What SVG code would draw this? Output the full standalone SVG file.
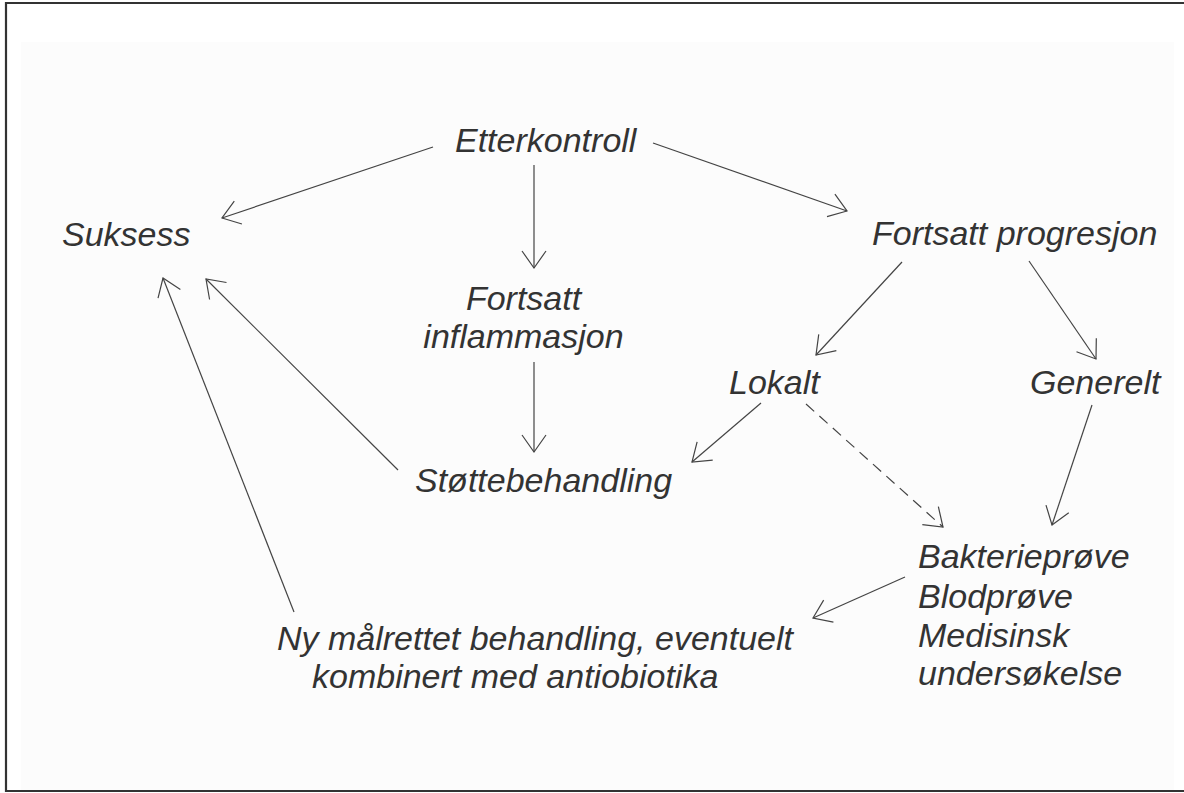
<svg xmlns="http://www.w3.org/2000/svg" width="1184" height="793" viewBox="0 0 1184 793">
  <style>
    .lbl { font-family: "Liberation Sans", Arial, sans-serif; font-style: italic; font-size: 34px; fill: #333333; }
    .edge { fill: none; stroke: #444444; stroke-width: 1.2; marker-end: url(#open); }
    .dash { stroke-dasharray: 11 7; }
    .frame { stroke: #333333; stroke-width: 2.2; fill: none; }
  </style>
  <defs>
    <marker id="open" markerUnits="userSpaceOnUse" viewBox="-20 -13 22 26" refX="0" refY="0" markerWidth="22" markerHeight="26" orient="auto" overflow="visible">
      <path d="M -17,-12 L 0,0 L -17,12" fill="none" stroke="#444444" stroke-width="1.2"/>
    </marker>
  </defs>

  <!-- page -->
  <rect x="0" y="0" width="1184" height="793" fill="#ffffff"/>
  <rect x="21" y="42" width="1153" height="748" fill="#fcfcfc"/>
  <path class="frame" d="M 1184,3 L 6,3 L 6,791 L 1184,791"/>

  <!-- connectors -->
  <g id="connectors">
    <line class="edge" x1="433" y1="147" x2="222" y2="218"/>
    <line class="edge" x1="653" y1="143" x2="847" y2="211"/>
    <line class="edge" x1="534" y1="165" x2="534" y2="268"/>
    <line class="edge" x1="534" y1="362" x2="534" y2="452"/>
    <line class="edge" x1="902" y1="262" x2="816" y2="355"/>
    <line class="edge" x1="1029" y1="261" x2="1096" y2="359"/>
    <line class="edge" x1="761" y1="403" x2="692" y2="462"/>
    <line class="edge dash" x1="806" y1="404" x2="943" y2="527"/>
    <line class="edge" x1="1092" y1="405" x2="1052" y2="525"/>
    <line class="edge" x1="905" y1="577" x2="813" y2="618"/>
    <line class="edge" x1="398" y1="470" x2="206" y2="279"/>
    <line class="edge" x1="294" y1="612" x2="163" y2="278"/>
  </g>

  <!-- nodes -->
  <g id="etterkontroll"><text class="lbl" x="455" y="152">Etterkontroll</text></g>
  <g id="suksess"><text class="lbl" x="62" y="246">Suksess</text></g>
  <g id="fortsatt-progresjon"><text class="lbl" x="872" y="245">Fortsatt progresjon</text></g>
  <g id="fortsatt-inflammasjon">
    <text class="lbl" x="523.5" y="310" text-anchor="middle">Fortsatt</text>
    <text class="lbl" x="523.5" y="348" text-anchor="middle">inflammasjon</text>
  </g>
  <g id="lokalt"><text class="lbl" x="729" y="394">Lokalt</text></g>
  <g id="generelt"><text class="lbl" x="1030" y="394">Generelt</text></g>
  <g id="stottebehandling"><text class="lbl" x="415" y="492">Støttebehandling</text></g>
  <g id="prover">
    <text class="lbl" x="918" y="568">Bakterieprøve</text>
    <text class="lbl" x="918" y="608">Blodprøve</text>
    <text class="lbl" x="918" y="647">Medisinsk</text>
    <text class="lbl" x="918" y="685">undersøkelse</text>
  </g>
  <g id="ny-behandling">
    <text class="lbl" x="277" y="650">Ny målrettet behandling, eventuelt</text>
    <text class="lbl" x="312" y="688">kombinert med antiobiotika</text>
  </g>
</svg>
